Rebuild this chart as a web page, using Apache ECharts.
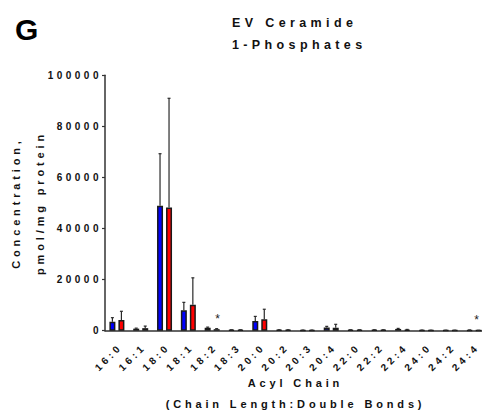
<!DOCTYPE html>
<html>
<head>
<meta charset="utf-8">
<script src="https://cdn.jsdelivr.net/npm/echarts@6/dist/echarts.min.js"></script>
<style>
  html, body { margin: 0; padding: 0; background: #fff; }
  #chart { width: 482px; height: 413px; }
  /* widely tracked lettering, as in the printed figure */
  #chart svg text { letter-spacing: 0.35em; }
</style>
</head>
<body>
<div id="chart"></div>
<script>
// Acyl chains (chain length : double bonds)
const categories = ['16:0', '16:1', '18:0', '18:1', '18:2', '18:3', '20:0', '20:2',
                    '20:3', '20:4', '22:0', '22:2', '22:4', '24:0', '24:2', '24:4'];

// Group 1 (blue): mean and SD, pmol/mg protein
const blueMean = [3500, 800, 48900, 8000, 1200, 300, 3800, 300, 200, 1300, 300, 300, 700, 200, 150, 250];
const blueSD   = [1600, 200, 20400, 3100, 200, 50, 1800, 50, 50, 400, 50, 50, 200, 50, 50, 50];

// Group 2 (red): mean and SD, pmol/mg protein
const redMean = [4200, 1000, 48200, 10200, 600, 300, 4500, 300, 200, 1200, 300, 300, 400, 150, 150, 100];
const redSD   = [3400, 800, 42800, 10500, 200, 50, 3900, 50, 50, 1300, 50, 50, 100, 50, 50, 50];

// Chains flagged as significant
const significant = ['18:2', '24:4'];

// Y axis ticks
const yMin = 0, yMax = 100000, yStep = 20000;

const BAR_W = 6, BAR_GAP = '50%';
const textFont = 'Liberation Sans, Arial, sans-serif';

function errorSeries(means, sds, side) {
  return {
    type: 'custom',
    z: 3,
    silent: true,
    data: means.map((m, i) => [i, m, m + sds[i]]),
    renderItem: function (params, api) {
      const i = api.value(0);
      // bar centre offset within the category pair
      const offset = side * (BAR_W / 2 + 1.5);
      const base = api.coord([i, api.value(1)]);
      const top = api.coord([i, api.value(2)]);
      const x = base[0] + offset;
      const style = { stroke: '#2a2a2a', lineWidth: 1.2 };
      return {
        type: 'group',
        children: [
          { type: 'line', shape: { x1: x, y1: base[1], x2: x, y2: top[1] }, style: style },
          { type: 'line', shape: { x1: x - 1.5, y1: top[1], x2: x + 1.5, y2: top[1] }, style: style }
        ]
      };
    }
  };
}

// significance marker above a red bar (kept inside the canvas at the last category)
function starLabel(i) {
  return {
    show: true, position: 'top', distance: 4,
    offset: [i === categories.length - 1 ? 0 : 3, 0],
    formatter: '*', fontSize: 12, fontWeight: 'normal', color: '#222'
  };
}

const chart = echarts.init(document.getElementById('chart'), null, { renderer: 'svg' });

chart.setOption({
  animation: false,
  backgroundColor: '#fff',
  textStyle: { fontFamily: textFont, fontWeight: 'bold', color: '#111' },
  grid: { left: 105, top: 75.3, width: 381, height: 255.4, containLabel: false, outerBoundsMode: 'none' },
  graphic: [
    {
      type: 'text', left: 15, top: 14,
      style: { text: 'G', font: 'bold 30px ' + textFont, fill: '#000' }
    },
    {
      type: 'text', left: 232, top: 12,
      style: { text: 'EV Ceramide\n1-Phosphates', font: 'bold 12.5px ' + textFont,
               fill: '#111', lineHeight: 22 }
    }
  ],
  xAxis: {
    type: 'category',
    data: categories,
    boundaryGap: true,
    axisLine: { lineStyle: { color: '#333', width: 1.5 } },
    axisTick: { alignWithLabel: true, length: 3, lineStyle: { color: '#333', width: 1.2 } },
    axisLabel: { rotate: 45, fontSize: 10, fontWeight: 'bold', color: '#111', margin: 11,
                 verticalAlign: 'top', interval: 0 },
    name: 'Acyl Chain\n(Chain Length:Double Bonds)',
    nameLocation: 'middle',
    nameGap: 42,
    nameTextStyle: { fontSize: 11, fontWeight: 'bold', color: '#111', lineHeight: 21, verticalAlign: 'top' }
  },
  yAxis: {
    type: 'value',
    min: yMin, max: yMax, interval: yStep,
    splitLine: { show: false },
    axisLine: { show: true, lineStyle: { color: '#333', width: 1.5 } },
    axisTick: { show: true, length: 3, lineStyle: { color: '#333', width: 1.2 } },
    axisLabel: { fontSize: 10, fontWeight: 'bold', color: '#111', margin: 3,
                 formatter: v => String(v) },
    name: 'Concentration,\npmol/mg protein',
    nameLocation: 'middle',
    nameRotate: 90,
    nameGap: 53,
    nameTextStyle: { fontSize: 11, fontWeight: 'bold', color: '#111', lineHeight: 24 }
  },
  series: [
    {
      type: 'bar',
      name: 'Blue',
      data: blueMean,
      barWidth: BAR_W,
      barGap: BAR_GAP,
      itemStyle: { color: '#0000ff', borderColor: '#1a1a1a', borderWidth: 1.5 }
    },
    {
      type: 'bar',
      name: 'Red',
      data: redMean.map((v, i) => significant.includes(categories[i])
        ? { value: v, label: starLabel(i) }
        : v),
      barWidth: BAR_W,
      barGap: BAR_GAP,
      itemStyle: { color: '#ff0000', borderColor: '#1a1a1a', borderWidth: 1.5 }
    },
    errorSeries(blueMean, blueSD, -1),
    errorSeries(redMean, redSD, 1)
  ]
});
</script>
</body>
</html>
